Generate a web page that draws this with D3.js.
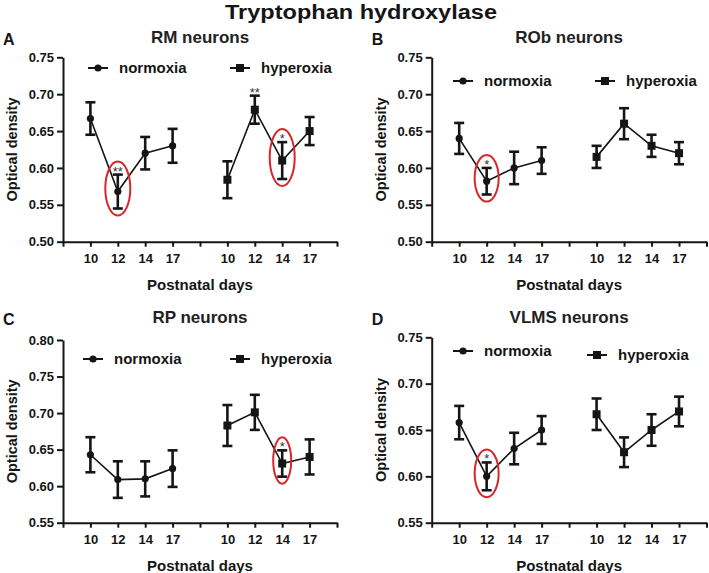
<!DOCTYPE html>
<html>
<head>
<meta charset="utf-8">
<script src="https://cdn.jsdelivr.net/npm/d3@7"></script>
<style>
  body { margin: 0; background: #fff; }
  svg { font-family: "Liberation Sans", Arial, sans-serif; }
</style>
</head>
<body>
<svg width="709" height="573"></svg>
<script>
// categories
const days = ["10", "12", "14", "17"];
const groups = ["normoxia", "hyperoxia"];

// panel A - RM neurons (mean, sem)
const rmNormMean = [0.667, 0.568, 0.620, 0.630];
const rmNormErr  = [0.022, 0.023, 0.022, 0.023];
const rmHypMean  = [0.584, 0.679, 0.610, 0.650];
const rmHypErr   = [0.025, 0.019, 0.025, 0.019];

// panel B - ROb neurons
const robNormMean = [0.640, 0.582, 0.600, 0.610];
const robNormErr  = [0.021, 0.018, 0.022, 0.018];
const robHypMean  = [0.615, 0.660, 0.630, 0.620];
const robHypErr   = [0.015, 0.021, 0.015, 0.015];

// panel C - RP neurons
const rpNormMean = [0.643, 0.609, 0.610, 0.624];
const rpNormErr  = [0.024, 0.025, 0.024, 0.025];
const rpHypMean  = [0.683, 0.701, 0.631, 0.640];
const rpHypErr   = [0.028, 0.024, 0.018, 0.024];

// panel D - VLMS neurons
const vlmsNormMean = [0.658, 0.600, 0.630, 0.650];
const vlmsNormErr  = [0.018, 0.015, 0.017, 0.015];
const vlmsHypMean  = [0.667, 0.626, 0.650, 0.670];
const vlmsHypErr   = [0.017, 0.016, 0.017, 0.016];

// y tick labels
const yTicksA = [0.50, 0.55, 0.60, 0.65, 0.70, 0.75];
const yTicksC = [0.55, 0.60, 0.65, 0.70, 0.75, 0.80];
const yTicksD = [0.55, 0.60, 0.65, 0.70, 0.75];

// significance marks: group index, day index, label, circled
const rmStars   = [[0, 1, "**", true], [1, 1, "**", false], [1, 2, "*", true]];
const robStars  = [[0, 1, "*", true]];
const rpStars   = [[1, 2, "*", true]];
const vlmsStars = [[0, 1, "*", true]];

const panels = [
  {letter: "A", title: "RM neurons", norm: [rmNormMean, rmNormErr], hyp: [rmHypMean, rmHypErr], stars: rmStars,
   yTicks: yTicksA, x0: 63, x1: 337, yTop: 57.3, yBot: 241.7, head: 43, leg: [88, 68, 230, 68], ell: 12.5},
  {letter: "B", title: "ROb neurons", norm: [robNormMean, robNormErr], hyp: [robHypMean, robHypErr], stars: robStars,
   yTicks: yTicksA, x0: 431.7, x1: 706.5, yTop: 57.3, yBot: 241.7, head: 43, leg: [453, 81, 595, 81], ell: 12},
  {letter: "C", title: "RP neurons", norm: [rpNormMean, rpNormErr], hyp: [rpHypMean, rpHypErr], stars: rpStars,
   yTicks: yTicksC, x0: 63, x1: 337, yTop: 340, yBot: 522.7, head: 323, leg: [83, 359, 230, 359], ell: 9},
  {letter: "D", title: "VLMS neurons", norm: [vlmsNormMean, vlmsNormErr], hyp: [vlmsHypMean, vlmsHypErr], stars: vlmsStars,
   yTicks: yTicksD, x0: 431.7, x1: 706.5, yTop: 337.3, yBot: 522.7, head: 323, leg: [453, 351, 587, 355], ell: 12}
];

const ink = "#151515";
const svg = d3.select("svg");

svg.append("text")
    .attr("x", 361).attr("y", 19)
    .attr("text-anchor", "middle")
    .attr("textLength", 272).attr("lengthAdjust", "spacingAndGlyphs")
    .style("font-size", "20px").style("font-weight", "bold")
    .attr("fill", ink)
    .text("Tryptophan hydroxylase");

// slot positions along x: normoxia 1..4, hyperoxia 6..9
const slots = [[1, 2, 3, 4], [6, 7, 8, 9]];

panels.forEach(function (p) {
    const g = svg.append("g");
    const x = d3.scaleLinear().domain([0, 10]).range([p.x0, p.x1]);
    const y = d3.scaleLinear().domain([p.yTicks[0], p.yTicks[p.yTicks.length - 1]]).range([p.yBot, p.yTop]);
    const cx = (p.x0 + p.x1) / 2;

    // y axis
    const ya = g.append("g")
        .attr("transform", "translate(" + p.x0 + ",0)")
        .call(d3.axisLeft(y).tickValues(p.yTicks).tickFormat(d3.format(".2f")).tickSize(6).tickSizeOuter(0).tickPadding(3));
    // x axis
    const xa = g.append("g")
        .attr("transform", "translate(0," + p.yBot + ")")
        .call(d3.axisBottom(x).tickValues(d3.range(0, 11)).tickSize(5).tickSizeOuter(0).tickPadding(7)
            .tickFormat(function (v) {
                if (v >= 1 && v <= 4) return days[v - 1];
                if (v >= 6 && v <= 9) return days[v - 6];
                return "";
            }));
    [ya, xa].forEach(function (a) {
        a.selectAll("path, line").attr("stroke", ink).attr("stroke-width", 2);
        a.selectAll("text").attr("fill", ink).style("font-size", "13px").style("font-weight", "bold");
    });

    // axis titles
    g.append("text")
        .attr("transform", "translate(" + (p.x0 - 46) + "," + ((p.yTop + p.yBot) / 2) + ") rotate(-90)")
        .attr("text-anchor", "middle")
        .style("font-size", "14.5px").style("font-weight", "bold").attr("fill", ink)
        .text("Optical density");
    g.append("text")
        .attr("x", cx).attr("y", p.yBot + 48)
        .attr("text-anchor", "middle")
        .style("font-size", "15px").style("font-weight", "bold").attr("fill", ink)
        .text("Postnatal days");

    // panel title + letter
    g.append("text")
        .attr("x", cx).attr("y", p.head)
        .attr("text-anchor", "middle")
        .style("font-size", "17px").style("font-weight", "bold").attr("fill", "#222")
        .text(p.title);
    g.append("text")
        .attr("x", p.x0 - 60).attr("y", p.head + 2)
        .style("font-size", "16px").style("font-weight", "bold").attr("fill", ink)
        .text(p.letter);

    // series
    [p.norm, p.hyp].forEach(function (s, gi) {
        const pts = s[0].map(function (m, i) { return {x: x(slots[gi][i]), m: m, e: s[1][i]}; });
        g.append("path")
            .datum(pts)
            .attr("fill", "none").attr("stroke", ink).attr("stroke-width", 1.6)
            .attr("d", d3.line().x(d => d.x).y(d => y(d.m)));
        const eb = g.append("g").attr("stroke", ink).attr("stroke-width", 2.6);
        pts.forEach(function (d) {
            eb.append("line").attr("x1", d.x).attr("x2", d.x).attr("y1", y(d.m - d.e)).attr("y2", y(d.m + d.e));
            eb.append("line").attr("x1", d.x - 5).attr("x2", d.x + 5).attr("y1", y(d.m + d.e)).attr("y2", y(d.m + d.e));
            eb.append("line").attr("x1", d.x - 5).attr("x2", d.x + 5).attr("y1", y(d.m - d.e)).attr("y2", y(d.m - d.e));
        });
        pts.forEach(function (d) {
            if (gi === 0) {
                g.append("circle").attr("cx", d.x).attr("cy", y(d.m)).attr("r", 3.6).attr("fill", ink);
            } else {
                g.append("rect").attr("x", d.x - 4).attr("y", y(d.m) - 4).attr("width", 8).attr("height", 8).attr("fill", ink);
            }
        });
    });

    // stars and red ellipses
    p.stars.forEach(function (st) {
        const s = st[0] === 0 ? p.norm : p.hyp;
        const m = s[0][st[1]], e = s[1][st[1]];
        const px = x(slots[st[0]][st[1]]);
        const top = y(m + e), bot = y(m - e);
        g.append("text")
            .attr("x", px).attr("y", top + 1)
            .attr("text-anchor", "middle")
            .style("font-size", "13px").attr("fill", "#333")
            .text(st[2]);
        if (st[3]) {
            g.append("ellipse")
                .attr("cx", px).attr("cy", (top + bot) / 2 - 3)
                .attr("rx", p.ell).attr("ry", (bot - top) / 2 + 10)
                .attr("fill", "none").attr("stroke", "#d8262b").attr("stroke-width", 2);
        }
    });

    // legend
    const lg = g.append("g");
    groups.forEach(function (name, gi) {
        const lx = p.leg[gi * 2], ly = p.leg[gi * 2 + 1];
        lg.append("line").attr("x1", lx).attr("x2", lx + 20).attr("y1", ly).attr("y2", ly)
            .attr("stroke", ink).attr("stroke-width", 2);
        if (gi === 0) {
            lg.append("circle").attr("cx", lx + 10).attr("cy", ly).attr("r", 3.6).attr("fill", ink);
        } else {
            lg.append("rect").attr("x", lx + 6).attr("y", ly - 4).attr("width", 8).attr("height", 8).attr("fill", ink);
        }
        lg.append("text").attr("x", lx + 31).attr("y", ly + 5)
            .style("font-size", "15px").style("font-weight", "bold").attr("fill", ink)
            .text(name);
    });
});
</script>
</body>
</html>
